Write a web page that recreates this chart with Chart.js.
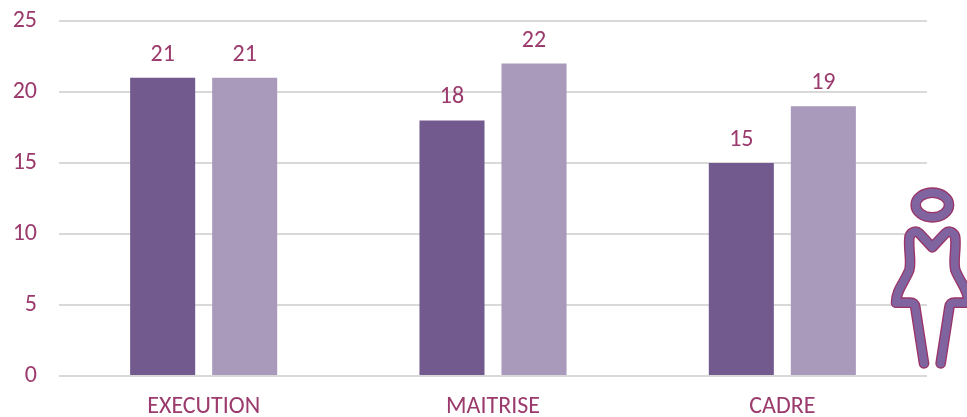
<!DOCTYPE html>
<html>
<head>
<meta charset="utf-8">
<style>
html,body{margin:0;padding:0;background:#fff;overflow:hidden}
#wrap{position:relative;width:967px;height:417px}
canvas{position:absolute;left:0;top:0}
#icon{position:absolute;left:860px;top:170px}
</style>
<script src="https://cdn.jsdelivr.net/npm/chart.js@4/dist/chart.umd.min.js"></script>
</head>
<body>
<div id="wrap">
<canvas id="c" width="967" height="417"></canvas>
<svg id="icon" width="107" height="210" viewBox="0 0 321 630" fill="none" stroke-linejoin="round" stroke-linecap="round">
<g stroke="#9B3468" stroke-width="32">
<ellipse cx="217" cy="105" rx="50" ry="37"/>
<path d="M192 580 L166 412 Q165 398 150 398 L108 398 C108 360 135 335 148 300 C155 275 145 240 148 205 C149 190 165 178 178 190 L217 232 L256 190 C269 178 285 190 286 205 C289 240 279 275 286 300 C299 335 326 360 326 398 L284 398 Q269 398 268 412 L242 580"/>
</g>
<g stroke="#7F64A0" stroke-width="24">
<ellipse cx="217" cy="105" rx="50" ry="37"/>
<path d="M192 580 L166 412 Q165 398 150 398 L108 398 C108 360 135 335 148 300 C155 275 145 240 148 205 C149 190 165 178 178 190 L217 232 L256 190 C269 178 285 190 286 205 C289 240 279 275 286 300 C299 335 326 360 326 398 L284 398 Q269 398 268 412 L242 580"/>
</g>
</svg>
</div>
<script>
const categories = ["EXECUTION", "MAITRISE", "CADRE"];
const seriesA = [21, 18, 15];
const seriesB = [21, 22, 19];
const yTicks = [0, 5, 10, 15, 20, 25];

const textColor = "#9B3A6C";
const fontFamily = "Carlito, Lato, sans-serif";
const fontSize = 24;

const valueLabels = {
  id: "valueLabels",
  afterDatasetsDraw(chart) {
    const ctx = chart.ctx;
    ctx.save();
    ctx.fillStyle = textColor;
    ctx.font = fontSize + "px " + fontFamily;
    ctx.textAlign = "center";
    ctx.textBaseline = "alphabetic";
    chart.data.datasets.forEach((ds, i) => {
      chart.getDatasetMeta(i).data.forEach((bar, j) => {
        ctx.fillText(String(ds.data[j]), bar.x, bar.y - 17);
      });
    });
    ctx.restore();
  }
};

new Chart(document.getElementById("c"), {
  type: "bar",
  data: {
    labels: categories,
    datasets: [
      { label: "Série 1", data: seriesA, backgroundColor: "#725A8E", borderWidth: 0 },
      { label: "Série 2", data: seriesB, backgroundColor: "#A99ABC", borderWidth: 0 }
    ]
  },
  options: {
    responsive: false,
    animation: false,
    categoryPercentage: 0.567,
    barPercentage: 0.793,
    layout: { padding: { top: 21, right: 40, left: 0, bottom: 0 } },
    plugins: { legend: { display: false }, tooltip: { enabled: false } },
    scales: {
      x: {
        grid: { display: false, drawTicks: false },
        border: { display: false },
        ticks: { color: textColor, font: { family: fontFamily, size: fontSize }, padding: 17, maxRotation: 0 },
        afterFit(a) { a.height = 41; a.paddingLeft = 0; a.paddingRight = 0; }
      },
      y: {
        min: 0,
        max: 25,
        afterBuildTicks(a) { a.ticks = yTicks.map(v => ({ value: v })); },
        grid: { color: "#D9D9D9", lineWidth: 2, drawTicks: false },
        border: { display: false },
        ticks: { color: textColor, font: { family: fontFamily, size: fontSize }, padding: 22 },
        afterFit(a) { a.width = 59; a.paddingTop = 0; a.paddingBottom = 0; }
      }
    }
  },
  plugins: [valueLabels]
});
</script>
</body>
</html>
